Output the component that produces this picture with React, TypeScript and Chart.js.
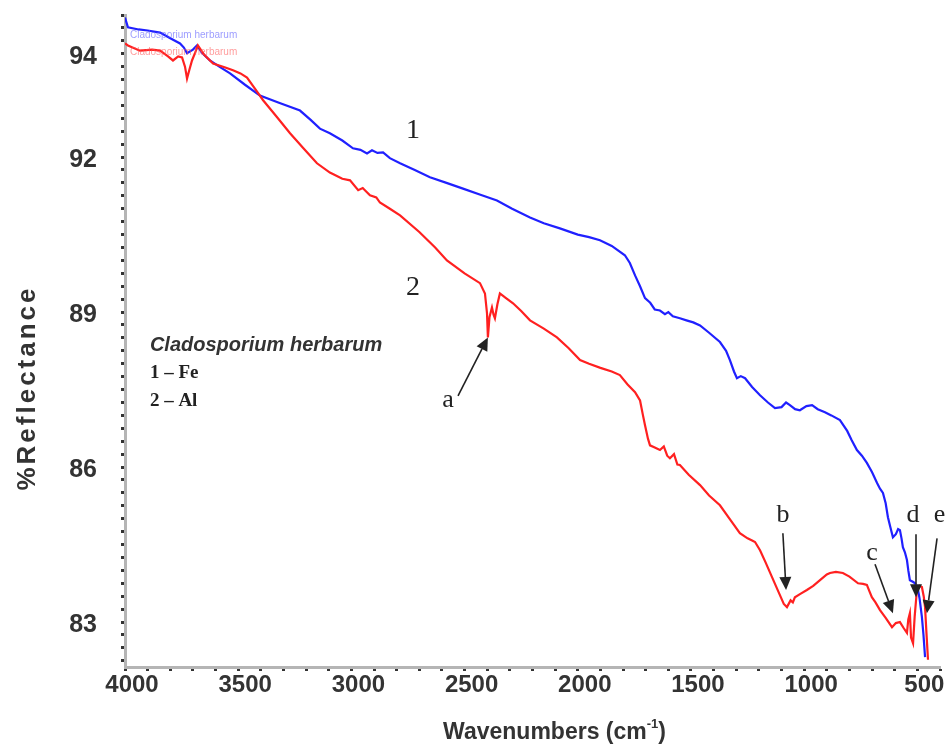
import React, { useEffect, useRef } from "react";
import { Chart, registerables } from "chart.js";
Chart.register(...registerables);

// ---- Data ----
const feWavenumbers = [4000, 3987, 3940, 3900, 3845, 3800, 3757, 3740, 3726, 3700, 3682, 3660, 3625, 3580, 3536, 3470, 3404, 3320, 3227, 3180, 3139, 3095, 3040, 2993, 2960, 2931, 2909, 2885, 2860, 2830, 2785, 2720, 2653, 2580, 2507, 2430, 2357, 2290, 2211, 2150, 2079, 2000, 1950, 1902, 1850, 1792, 1770, 1747, 1725, 1703, 1680, 1660, 1637, 1615, 1600, 1580, 1549, 1520, 1490, 1460, 1420, 1372, 1345, 1328, 1310, 1297, 1280, 1261, 1230, 1195, 1160, 1129, 1100, 1080, 1063, 1040, 1019, 990, 965, 940, 908, 880, 842, 810, 790, 767, 745, 723, 700, 678, 665, 652, 640, 630, 620, 608, 595, 585, 577, 570, 564, 555, 546, 540, 533, 520, 510, 497, 490, 480, 473, 466];
const feReflectance = [94.70, 94.51, 94.47, 94.45, 94.41, 94.30, 94.20, 94.12, 94.01, 94.08, 94.16, 94.02, 93.87, 93.74, 93.62, 93.40, 93.19, 93.05, 92.90, 92.72, 92.55, 92.46, 92.32, 92.17, 92.14, 92.07, 92.13, 92.08, 92.09, 91.98, 91.88, 91.75, 91.61, 91.50, 91.39, 91.27, 91.16, 91.00, 90.83, 90.72, 90.62, 90.50, 90.45, 90.39, 90.28, 90.10, 89.95, 89.71, 89.50, 89.27, 89.18, 89.05, 89.03, 88.96, 89.00, 88.92, 88.88, 88.84, 88.80, 88.74, 88.60, 88.42, 88.25, 88.07, 87.85, 87.72, 87.76, 87.72, 87.55, 87.39, 87.25, 87.14, 87.16, 87.25, 87.20, 87.12, 87.10, 87.18, 87.20, 87.12, 87.06, 87.00, 86.91, 86.70, 86.52, 86.33, 86.22, 86.08, 85.90, 85.69, 85.58, 85.50, 85.30, 85.03, 84.85, 84.64, 84.70, 84.80, 84.78, 84.62, 84.45, 84.35, 84.20, 84.00, 83.81, 83.78, 83.75, 83.62, 83.45, 83.10, 82.75, 82.32];

const alWavenumbers = [4000, 3987, 3934, 3880, 3845, 3810, 3788, 3765, 3748, 3735, 3726, 3715, 3704, 3690, 3678, 3650, 3611, 3560, 3523, 3490, 3461, 3430, 3390, 3330, 3271, 3210, 3152, 3095, 3040, 3006, 2970, 2950, 2918, 2890, 2874, 2830, 2785, 2700, 2630, 2578, 2500, 2432, 2410, 2401, 2397, 2390, 2379, 2372, 2366, 2355, 2344, 2320, 2286, 2250, 2211, 2150, 2092, 2040, 1990, 1950, 1900, 1850, 1814, 1780, 1747, 1725, 1712, 1703, 1690, 1681, 1660, 1637, 1620, 1605, 1593, 1575, 1560, 1549, 1510, 1460, 1420, 1372, 1330, 1284, 1250, 1230, 1217, 1195, 1170, 1142, 1110, 1090, 1076, 1060, 1050, 1041, 1015, 988, 960, 930, 900, 886, 860, 829, 800, 762, 740, 723, 712, 701, 685, 665, 640, 612, 595, 577, 560, 546, 540, 533, 528, 519, 512, 502, 490, 480, 472, 466, 460, 453];
const alReflectance = [94.20, 94.16, 94.06, 94.08, 94.06, 93.95, 93.87, 93.95, 93.93, 93.75, 93.52, 93.70, 93.87, 94.02, 94.16, 93.98, 93.81, 93.74, 93.68, 93.62, 93.54, 93.35, 93.10, 92.78, 92.46, 92.16, 91.88, 91.70, 91.58, 91.55, 91.36, 91.40, 91.26, 91.22, 91.12, 91.00, 90.87, 90.55, 90.25, 90.00, 89.75, 89.56, 89.36, 88.98, 88.51, 88.90, 89.09, 88.95, 88.88, 89.15, 89.36, 89.28, 89.17, 89.02, 88.84, 88.68, 88.51, 88.30, 88.07, 88.00, 87.92, 87.85, 87.78, 87.60, 87.45, 87.29, 87.00, 86.81, 86.55, 86.42, 86.38, 86.33, 86.40, 86.22, 86.17, 86.25, 86.05, 86.04, 85.85, 85.65, 85.45, 85.26, 85.00, 84.72, 84.62, 84.58, 84.55, 84.39, 84.15, 83.87, 83.55, 83.35, 83.29, 83.42, 83.38, 83.48, 83.55, 83.62, 83.70, 83.81, 83.92, 83.95, 83.97, 83.95, 83.88, 83.75, 83.74, 83.72, 83.60, 83.48, 83.38, 83.23, 83.08, 82.90, 82.98, 83.00, 82.88, 82.79, 83.05, 83.17, 82.70, 82.59, 83.10, 83.62, 83.70, 83.68, 83.50, 83.29, 82.80, 82.27];

const xTickLabels = [4000, 3500, 3000, 2500, 2000, 1500, 1000, 500];
const yTickLabels = [94, 92, 89, 86, 83];
const xMin = 400;
const xMax = 4000;
const yMin = 82.13;
const yMax = 94.75;

const seriesNames = ["1 \u2013 Fe", "2 \u2013 Al"];
const legendTitle = "Cladosporium herbarum";

// curve number labels (wavenumber, reflectance)
const curveLabels = [
  { text: "1", x: 2728, y: 92.52 },
  { text: "2", x: 2728, y: 89.48 },
];

// band arrows: label position, arrow tail, arrow head (data units)
const bandArrows = [
  { label: "a", lx: 2573, ly: 87.29, tx: 2529, ty: 87.38, hx: 2397, hy: 88.51 },
  { label: "b", lx: 1094, ly: 85.07, tx: 1094, ty: 84.72, hx: 1080, hy: 83.62 },
  { label: "c", lx: 700, ly: 84.33, tx: 687, ty: 84.12, hx: 608, hy: 83.17 },
  { label: "d", lx: 519, ly: 85.07, tx: 506, ty: 84.70, hx: 506, hy: 83.48 },
  { label: "e", lx: 402, ly: 85.07, tx: 413, ty: 84.62, hx: 458, hy: 83.17 },
];

const SANS = '"Liberation Sans", Arial, sans-serif';
const SERIF = '"Liberation Serif", "Times New Roman", serif';

const overlayPlugin = {
  id: "overlay",
  afterDraw(chart: any) {
    const ctx = chart.ctx;
    const xs = chart.scales.x;
    const ys = chart.scales.y;
    const px = (v: number) => xs.getPixelForValue(v);
    const py = (v: number) => ys.getPixelForValue(v);
    const area = chart.chartArea;
    ctx.save();

    // faint ghost legend at top-left
    ctx.font = `10px ${SANS}`;
    ctx.textAlign = "left";
    ctx.textBaseline = "middle";
    ctx.fillStyle = "rgba(90,90,255,0.6)";
    ctx.fillText(legendTitle, px(3978), py(94.35));
    ctx.fillStyle = "rgba(255,90,90,0.6)";
    ctx.fillText(legendTitle, px(3978), py(94.03));

    // y axis title
    ctx.save();
    ctx.translate(28, 388);
    ctx.rotate(-Math.PI / 2);
    ctx.font = `bold 26px ${SANS}`;
    (ctx as any).letterSpacing = "3px";
    ctx.fillStyle = "#333";
    ctx.textAlign = "center";
    ctx.textBaseline = "middle";
    ctx.fillText("%Reflectance", 0, 0);
    ctx.restore();

    // x axis title with superscript
    ctx.save();
    ctx.fillStyle = "#333";
    ctx.textBaseline = "middle";
    ctx.textAlign = "left";
    const mainFont = `bold 23px ${SANS}`;
    const supFont = `bold 13px ${SANS}`;
    const t1 = "Wavenumbers (cm";
    const t2 = "-1";
    const t3 = ")";
    ctx.font = mainFont;
    const w1 = ctx.measureText(t1).width;
    const w3 = ctx.measureText(t3).width;
    ctx.font = supFont;
    const w2 = ctx.measureText(t2).width;
    const total = w1 + w2 + w3;
    const cx = (area.left + area.right) / 2 + 22;
    const cy = area.bottom + 66;
    let sx = cx - total / 2;
    ctx.font = mainFont;
    ctx.fillText(t1, sx, cy);
    sx += w1;
    ctx.font = supFont;
    ctx.fillText(t2, sx, cy - 9);
    sx += w2;
    ctx.font = mainFont;
    ctx.fillText(t3, sx, cy);
    ctx.restore();

    // curve number labels
    ctx.fillStyle = "#222";
    ctx.font = `28px ${SERIF}`;
    ctx.textAlign = "center";
    ctx.textBaseline = "middle";
    curveLabels.forEach((c) => ctx.fillText(c.text, px(c.x), py(c.y)));

    // legend block
    ctx.textAlign = "left";
    ctx.fillStyle = "#333";
    ctx.font = `italic bold 20px ${SANS}`;
    const lx = px(3890);
    const ly = py(88.36);
    ctx.fillText(legendTitle, lx, ly);
    ctx.font = `bold 19px ${SERIF}`;
    ctx.fillStyle = "#222";
    seriesNames.forEach((s, i) => ctx.fillText(s, lx, ly + 28 * (i + 1)));

    // arrows
    bandArrows.forEach((a) => {
      ctx.font = `26px ${SERIF}`;
      ctx.fillStyle = "#222";
      ctx.textAlign = "center";
      ctx.textBaseline = "middle";
      ctx.fillText(a.label, px(a.lx), py(a.ly));
      const x1 = px(a.tx), y1 = py(a.ty), x2 = px(a.hx), y2 = py(a.hy);
      const ang = Math.atan2(y2 - y1, x2 - x1);
      const hl = 13, hw = 6;
      const bx = x2 - hl * Math.cos(ang), by = y2 - hl * Math.sin(ang);
      ctx.strokeStyle = "#222";
      ctx.lineWidth = 1.6;
      ctx.beginPath();
      ctx.moveTo(x1, y1);
      ctx.lineTo(bx, by);
      ctx.stroke();
      ctx.beginPath();
      ctx.moveTo(x2, y2);
      ctx.lineTo(bx + hw * Math.sin(ang), by - hw * Math.cos(ang));
      ctx.lineTo(bx - hw * Math.sin(ang), by + hw * Math.cos(ang));
      ctx.closePath();
      ctx.fill();
    });

    ctx.restore();
  },
};

export default function App() {
  const ref = useRef<HTMLCanvasElement | null>(null);
  useEffect(() => {
    if (!ref.current) return;
    const fe = feWavenumbers.map((x, i) => ({ x, y: feReflectance[i] }));
    const al = alWavenumbers.map((x, i) => ({ x, y: alReflectance[i] }));
    const chart = new Chart(ref.current, {
      type: "line",
      data: {
        datasets: [
          { label: seriesNames[1], data: al, borderColor: "#ff2020", borderWidth: 2.2, pointRadius: 0, tension: 0, order: 0 },
          { label: seriesNames[0], data: fe, borderColor: "#2020ff", borderWidth: 2.2, pointRadius: 0, tension: 0, order: 1 },
        ],
      },
      options: {
        responsive: false,
        animation: false,
        parsing: true,
        layout: { padding: { top: 15, right: 9, left: 0, bottom: 0 } },
        plugins: { legend: { display: false }, tooltip: { enabled: false } },
        scales: {
          x: {
            type: "linear",
            reverse: true,
            min: xMin,
            max: xMax,
            afterBuildTicks: (s: any) => {
              const t = [];
              for (let v = xMin; v <= xMax; v += 100) t.push({ value: v });
              s.ticks = t;
            },
            afterFit: (s: any) => {
              s.height = 83;
              s.paddingLeft = 0;
              s.paddingRight = 0;
            },
            ticks: {
              autoSkip: false,
              maxRotation: 0,
              padding: 0,
              labelOffset: 7,
              color: "#333",
              font: { family: SANS, size: 24, weight: "bold" },
              callback: (v: any) => (xTickLabels.includes(Number(v)) ? String(v) : ""),
            },
            grid: { drawOnChartArea: false, drawTicks: true, tickLength: 4, tickWidth: 3, color: "#333" },
            border: { display: true, color: "#b5b5b5", width: 3 },
          },
          y: {
            type: "linear",
            min: yMin,
            max: yMax,
            afterBuildTicks: (s: any) => {
              const t = [];
              for (let i = 0; 82.25 + i * 0.25 <= yMax + 1e-9; i++) t.push({ value: Math.round((82.25 + i * 0.25) * 100) / 100 });
              s.ticks = t;
            },
            afterFit: (s: any) => {
              s.width = 125;
              s.paddingTop = 0;
              s.paddingBottom = 0;
            },
            ticks: {
              autoSkip: false,
              padding: 24,
              labelOffset: 3,
              color: "#333",
              font: { family: SANS, size: 25, weight: "bold" },
              callback: (v: any) => (yTickLabels.some((l) => Math.abs(l - Number(v)) < 1e-6) ? String(Math.round(Number(v))) : ""),
            },
            grid: { drawOnChartArea: false, drawTicks: true, tickLength: 4, tickWidth: 3, color: "#333" },
            border: { display: true, color: "#b5b5b5", width: 3 },
          },
        },
      },
      plugins: [overlayPlugin],
    });
    return () => chart.destroy();
  }, []);
  return (
    <div style={{ position: "fixed", left: 0, top: 0, width: 949, height: 750, background: "#fff" }}>
      <canvas ref={ref} width={949} height={750} />
    </div>
  );
}
